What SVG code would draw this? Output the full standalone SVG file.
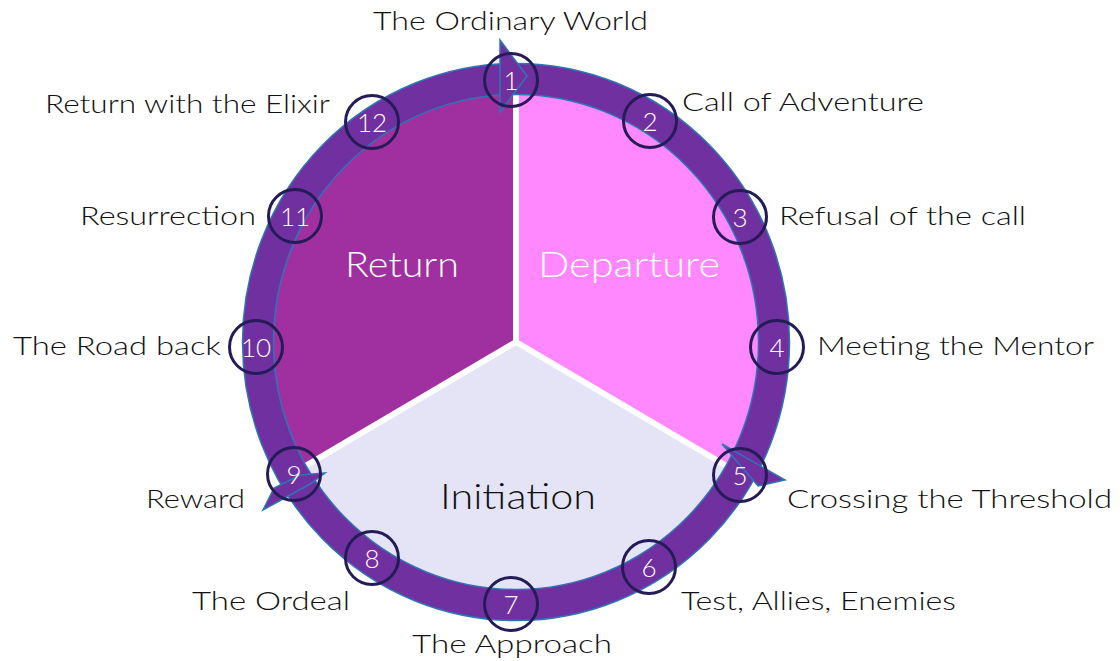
<svg xmlns="http://www.w3.org/2000/svg" width="1120" height="661" viewBox="0 0 1120 661">
<style>
.lbl{font-family:"Lato","Open Sans","Liberation Sans",sans-serif;font-weight:300;font-size:26px;fill:#111;}
.sec{font-family:"Lato","Open Sans","Liberation Sans",sans-serif;font-weight:300;font-size:36px;}
.num{font-family:"Lato","Open Sans","Liberation Sans",sans-serif;font-weight:300;font-size:26px;fill:#fff;text-anchor:middle;}
.badge{fill:none;stroke:#241B57;stroke-width:3;}
.head{fill:#7030A0;stroke:#2E75B6;stroke-width:1.5;stroke-linejoin:miter;}
.div{stroke:#fff;stroke-width:6;}
</style>
<rect width="1120" height="661" fill="#fff"/>
<g id="sectors">
<g id="departure">
<path d="M516,342 L516,87 A250,255 0 0 1 732.5,469.5 Z" fill="#FF88FF"/>
<text class="sec" x="538" y="277" fill="#fff" textLength="182" lengthAdjust="spacingAndGlyphs">Departure</text>
</g>
<g id="initiation">
<path d="M516,342 L732.5,469.5 A250,255 0 0 1 299.5,469.5 Z" fill="#E4E4F6"/>
<text class="sec" x="440" y="509" fill="#111" textLength="156" lengthAdjust="spacingAndGlyphs">Initiation</text>
</g>
<g id="return">
<path d="M516,342 L299.5,469.5 A250,255 0 0 1 516,87 Z" fill="#A030A0"/>
<text class="sec" x="345" y="277" fill="#fff" textLength="114" lengthAdjust="spacingAndGlyphs">Return</text>
</g>
</g>
<g id="connectors">
<line class="div" x1="516" y1="342" x2="516" y2="90"/>
<line class="div" x1="516" y1="342" x2="730" y2="468"/>
<line class="div" x1="516" y1="342" x2="302" y2="468"/>
<ellipse cx="516" cy="342" rx="258" ry="263" fill="none" stroke="#7030A0" stroke-width="31"/>
<ellipse cx="516" cy="342" rx="273.5" ry="278.5" fill="none" stroke="#2E75B6" stroke-width="1.5"/>
<ellipse cx="516" cy="342" rx="242.5" ry="247.5" fill="none" stroke="#2E75B6" stroke-width="1.5"/>
<polygon class="head" points="500,40 527,76 500,112"/>
<polygon class="head" points="722,444 785,480 758,486"/>
<polygon class="head" points="274,488 263,510 310,484 325,473 300,475"/>
</g>
<g id="n1"><circle class="badge" cx="511" cy="80" r="26.5"/><text class="num" x="511" y="90">1</text><text class="lbl" x="510.5" y="30" text-anchor="middle" textLength="275" lengthAdjust="spacingAndGlyphs">The Ordinary World</text></g>
<g id="n2"><circle class="badge" cx="650" cy="121" r="26.5"/><text class="num" x="650" y="131">2</text><text class="lbl" x="682" y="111" textLength="242" lengthAdjust="spacingAndGlyphs">Call of Adventure</text></g>
<g id="n3"><circle class="badge" cx="740" cy="217" r="26.5"/><text class="num" x="740" y="227">3</text><text class="lbl" x="779" y="225" textLength="247" lengthAdjust="spacingAndGlyphs">Refusal of the call</text></g>
<g id="n4"><circle class="badge" cx="777" cy="347" r="26.5"/><text class="num" x="777" y="357">4</text><text class="lbl" x="817" y="355" textLength="277" lengthAdjust="spacingAndGlyphs">Meeting the Mentor</text></g>
<g id="n5"><circle class="badge" cx="740" cy="475" r="26.5"/><text class="num" x="740" y="485">5</text><text class="lbl" x="787" y="508" textLength="325" lengthAdjust="spacingAndGlyphs">Crossing the Threshold</text></g>
<g id="n6"><circle class="badge" cx="649" cy="567" r="26.5"/><text class="num" x="649" y="577">6</text><text class="lbl" x="681" y="610" textLength="275" lengthAdjust="spacingAndGlyphs">Test, Allies, Enemies</text></g>
<g id="n7"><circle class="badge" cx="511" cy="604" r="26.5"/><text class="num" x="511" y="614">7</text><text class="lbl" x="412" y="653" textLength="200" lengthAdjust="spacingAndGlyphs">The Approach</text></g>
<g id="n8"><circle class="badge" cx="372" cy="558" r="26.5"/><text class="num" x="372" y="568">8</text><text class="lbl" x="192" y="610" textLength="158" lengthAdjust="spacingAndGlyphs">The Ordeal</text></g>
<g id="n9"><circle class="badge" cx="294" cy="474" r="26.5"/><text class="num" x="294" y="484">9</text><text class="lbl" x="146" y="508" textLength="99" lengthAdjust="spacingAndGlyphs">Reward</text></g>
<g id="n10"><circle class="badge" cx="256" cy="347" r="26.5"/><text class="num" x="256" y="357">10</text><text class="lbl" x="13" y="355" textLength="208" lengthAdjust="spacingAndGlyphs">The Road back</text></g>
<g id="n11"><circle class="badge" cx="295" cy="216" r="26.5"/><text class="num" x="295" y="226">11</text><text class="lbl" x="80" y="225" textLength="176" lengthAdjust="spacingAndGlyphs">Resurrection</text></g>
<g id="n12"><circle class="badge" cx="372" cy="122" r="26.5"/><text class="num" x="372" y="132">12</text><text class="lbl" x="45" y="113" textLength="285" lengthAdjust="spacingAndGlyphs">Return with the Elixir</text></g>
</svg>
